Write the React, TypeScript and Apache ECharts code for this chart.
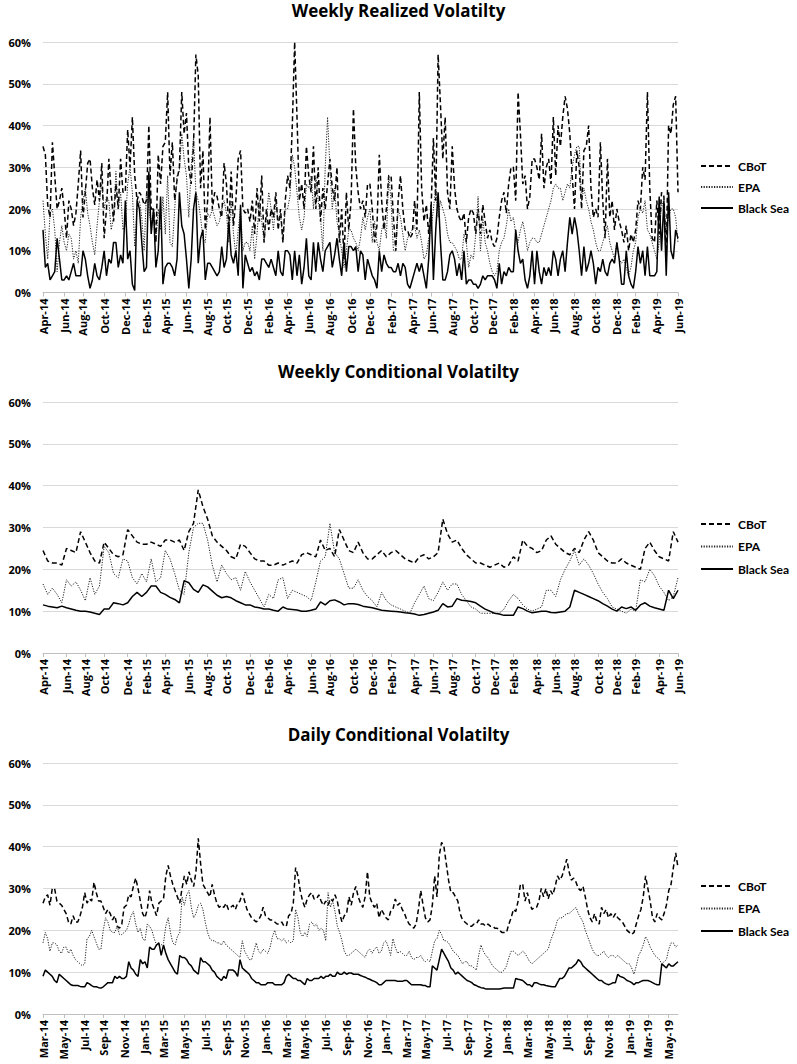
import { useEffect, useRef } from "react";
import * as echarts from "echarts";

const MONTHS = ["Jan", "Feb", "Mar", "Apr", "May", "Jun", "Jul", "Aug", "Sep", "Oct", "Nov", "Dec"];
const SERIES_NAMES = ["CBoT", "EPA", "Black Sea"];
const TITLES = ["Weekly Realized Volatilty", "Weekly Conditional Volatilty", "Daily Conditional Volatilty"];

// ---- Weekly realized volatility (%), weekly from 2014-04-04 ----
const realizedCBoT = [
  35, 33, 21, 18, 36, 28, 20, 22, 25,
  20, 13, 22, 20, 16, 19, 26, 34,
  18, 24, 31, 32, 25, 21, 27, 22, 31,
  13, 20, 32, 24, 17, 26, 20, 32, 24,
  24, 39, 30, 42, 28, 22, 24, 23, 21,
  22, 40, 20, 20, 12, 33, 26, 35,
  36, 48, 28, 36, 22, 27, 30, 48, 38,
  43, 30, 26, 35, 57, 52, 25, 34, 15,
  22, 42, 20, 24, 23, 20, 18, 31,
  26, 15, 29, 16, 22, 32, 34, 20, 19,
  20, 17, 22, 14, 25, 17, 28, 12, 20,
  15, 20, 18, 24, 15, 20, 12, 22,
  28, 25, 40, 60, 42, 22, 26, 20, 35,
  28, 24, 35, 20, 30, 17, 25, 20, 26,
  32, 25, 22, 30, 12, 20, 8, 24, 15,
  22, 44, 30, 24, 20, 22, 18, 26,
  26, 20, 12, 16, 33, 22, 15, 20, 28,
  28, 18, 10, 22, 28, 20, 15, 15, 13,
  14, 22, 15, 48, 25, 17, 21, 14,
  20, 37, 22, 57, 45, 32, 42, 24, 20,
  35, 25, 20, 18, 17, 19, 12, 18, 20,
  19, 14, 20, 14, 21, 17, 13, 15,
  12, 11, 13, 18, 22, 24, 19, 26, 30,
  30, 22, 48, 38, 26, 28, 20, 23, 32,
  32, 30, 27, 38, 25, 30, 32, 26,
  42, 28, 40, 35, 42, 47, 44, 38, 28,
  20, 34, 30, 20, 34, 35, 40, 25, 18,
  20, 18, 36, 22, 13, 32, 18, 22, 15,
  20, 17, 15, 12, 16, 10, 14, 12,
  15, 22, 20, 30, 27, 48, 25, 13, 12,
  22, 14, 24, 23, 8, 40, 38, 45, 47,
  24,
];
const realizedEPA = [
  22, 14, 8, 19, 20, 15, 5, 12, 16,
  12, 10, 14, 13, 8, 10, 7, 18,
  22, 25, 19, 16, 12, 9, 16, 22, 26,
  20, 23, 22, 15, 18, 29, 20, 24, 15,
  16, 26, 30, 24, 11, 20, 22, 18, 10,
  24, 20, 16, 20, 12, 20, 15, 23,
  14, 28, 12, 11, 20, 28, 29, 38, 32,
  28, 18, 30, 37, 24, 22, 18, 13, 12,
  19, 18, 20, 18, 16, 17, 20, 22,
  19, 12, 22, 14, 9, 15, 20, 10, 12,
  12, 10, 16, 8, 14, 22, 17, 12, 18,
  24, 20, 15, 22, 17, 19, 12, 20,
  20, 23, 33, 30, 24, 18, 15, 18, 26,
  25, 28, 20, 28, 22, 18, 10, 30, 42,
  30, 20, 25, 17, 14, 10, 6, 10, 15,
  15, 13, 12, 10, 13, 18, 15, 18,
  20, 12, 17, 12, 10, 15, 17, 13, 28,
  22, 10, 10, 20, 18, 14, 10, 13, 14,
  15, 16, 13, 15, 12, 8, 9, 13,
  15, 20, 25, 18, 22, 20, 18, 14, 12,
  12, 11, 10, 8, 8, 14, 12, 6, 9,
  8, 14, 23, 10, 18, 12, 10, 7,
  5, 4, 5, 10, 12, 13, 16, 20, 17,
  18, 14, 12, 15, 17, 14, 10, 12, 13,
  13, 12, 12, 14, 16, 18, 20, 22,
  25, 26, 25, 25, 22, 24, 26, 25, 30,
  33, 35, 35, 22, 25, 22, 20, 17, 15,
  12, 10, 10, 12, 14, 16, 12, 10, 8,
  12, 8, 7, 8, 6, 4, 6, 10,
  12, 18, 20, 19, 22, 15, 14, 12, 10,
  8, 12, 22, 20, 15, 18, 20, 20, 18,
  12,
];
const realizedBlackSea = [
  15, 6, 7, 3, 4, 5, 13, 8, 3,
  3, 4, 3, 5, 7, 4, 4, 4,
  10, 8, 4, 1, 3, 7, 4, 3, 6,
  10, 4, 8, 7, 12, 12, 6, 9, 7,
  22, 8, 10, 2, 0.5, 22, 20, 12, 5,
  6, 29, 14, 20, 6, 10, 23, 2,
  6, 7, 7, 6, 4, 8, 24, 16, 14,
  8, 1, 8, 20, 24, 7, 13, 15, 3,
  7, 7, 6, 5, 4, 5, 11, 6,
  8, 17, 9, 7, 10, 4, 21, 1, 9,
  7, 5, 6, 4, 5, 3, 8, 8, 7,
  6, 8, 6, 4, 10, 5, 4, 10,
  10, 9, 3, 10, 4, 9, 2, 6, 13,
  4, 3, 12, 5, 12, 8, 5, 10, 11,
  12, 6, 9, 13, 8, 4, 12, 5, 11,
  11, 10, 11, 5, 10, 9, 3, 8,
  6, 4, 3, 1, 10, 5, 9, 7, 6,
  6, 5, 5, 7, 4, 7, 6, 2, 1,
  3, 5, 7, 5, 7, 4, 1, 8,
  21, 3, 15, 24, 12, 3, 3, 5, 9,
  10, 8, 4, 7, 3, 10, 2, 3, 3,
  2, 2, 1, 2, 4, 3, 4, 4,
  4, 3, 1, 7, 2, 5, 4, 6, 5,
  5, 15, 10, 7, 8, 3, 1, 4, 10,
  2, 10, 5, 2, 6, 4, 6, 4,
  10, 8, 4, 8, 10, 5, 12, 18, 14,
  18, 15, 10, 4, 11, 5, 7, 10, 7,
  2, 6, 5, 8, 5, 4, 7, 8, 7,
  12, 8, 2, 2, 10, 4, 2, 1,
  5, 11, 7, 10, 4, 11, 4, 4, 4,
  5, 23, 10, 22, 4, 24, 10, 8, 15,
  13,
];

// ---- Weekly conditional volatility (%), sampled every 2 weeks from 2014-04-04 ----
const weeklyCondCBoT = [
  24.5, 22, 21.5, 21.5, 21,
  25, 24.5, 24, 29,
  26.5, 24, 22, 21.5,
  26.5, 25, 23.5, 23, 23.5,
  29.5, 28, 26.5, 26,
  26, 26.5, 26, 25.5,
  27, 27, 26.5, 27, 24.5,
  29, 31, 39, 35,
  32, 28, 26.5, 25.5,
  24.5, 23, 22.5, 26, 25.5,
  24, 22.5, 22, 22,
  21, 21, 21.5, 21,
  21.5, 22, 21.5, 23.5, 24,
  23.5, 23, 27, 24.5,
  25, 23, 29.5, 27, 24.5,
  24, 26.5, 24, 22.5,
  22.5, 23.5, 24.5, 23,
  24, 24.5, 23.5, 22.5, 22,
  21.5, 23, 23.5, 22.5,
  23, 24, 32, 28.5,
  26.5, 27, 25, 23.5, 22.5,
  21.5, 21.5, 21, 20.5,
  21, 21.5, 20.5, 21,
  23, 22, 27, 25.5, 25,
  24, 24.5, 27, 28,
  26, 25, 24, 23.5,
  25, 24, 27, 29, 27,
  24, 23, 22, 21.5,
  21.5, 22.5, 21.5, 21,
  20.5, 20, 25, 26.5, 24.5,
  23, 22.5, 22, 29,
  26.5,
];
const weeklyCondEPA = [
  16.5, 14, 15.5, 14, 12,
  17.5, 16, 17, 15,
  12.5, 18, 14, 16,
  25.5, 24, 19, 18, 22.5,
  22, 18, 16.5, 19,
  17, 22.5, 17, 18,
  24.5, 22.5, 19, 15, 14,
  24, 30, 31, 31,
  27, 21, 17, 21,
  19, 17.5, 18, 15, 19.5,
  17, 15, 13, 11,
  14, 13, 17.5, 18,
  13, 15, 14.5, 14, 13.5,
  12.5, 17, 22, 23,
  31, 24, 22.5, 19, 15.5,
  15.5, 17.5, 15, 13.5,
  12.5, 11, 14.5, 12.5,
  11.5, 11, 10.5, 10, 9.5,
  12, 14, 16, 13,
  12.5, 14.5, 17, 15,
  16.5, 16.5, 14, 12.5, 11,
  10.5, 9.5, 9.5, 9.5,
  9.5, 9.5, 10.5, 12.5,
  14, 13, 11.5, 10.5, 10,
  10.5, 11, 15, 15,
  13.5, 17.5, 20, 22,
  24.5, 21, 22.5, 21, 19,
  16.5, 14.5, 13, 11,
  10.5, 10, 9.5, 10.5,
  10, 17.5, 17, 20, 18.5,
  16, 14.5, 12.5, 13.5,
  18,
];
const weeklyCondBlackSea = [
  11.5, 11.2, 11, 10.8, 11.2,
  10.8, 10.5, 10.2, 10,
  10, 9.8, 9.5, 9.2,
  10.5, 10.5, 12, 11.8, 11.5,
  12, 13.5, 14.5, 13.5,
  14.5, 16, 16, 14.5,
  14, 13.3, 12.8, 12, 17.3,
  16.8, 15.2, 14.5, 16.3,
  15.8, 14.8, 13.8, 13.2,
  13.5, 13.2, 12.5, 12, 11.5,
  11.5, 11, 10.8, 10.5,
  10.5, 10.2, 10, 11,
  10.5, 10.4, 10.3, 10, 10,
  10.2, 10.5, 12.2, 11.5,
  12.5, 12.7, 12.2, 11.5, 11.8,
  11.8, 11.6, 11.2, 11,
  10.8, 10.5, 10.2, 10.1,
  10, 9.9, 9.8, 9.6, 9.5,
  9.3, 9, 9.2, 9.5,
  9.8, 10.2, 11.8, 11,
  11.2, 13, 12.6, 12.5, 12.3,
  12, 11.2, 10.5, 10,
  9.5, 9.3, 9, 9,
  9, 11, 10.6, 10, 9.6,
  9.8, 10, 10, 9.7,
  9.6, 9.8, 10, 11,
  15, 14.5, 14, 13.5, 13,
  12.5, 11.8, 11.2, 10.5,
  10, 11, 10.6, 11,
  10.2, 11.5, 12, 11.2, 10.8,
  10.5, 10.2, 15, 13,
  15,
];

// ---- Daily conditional volatility (%), sampled weekly from 2014-03-03 ----
const dailyCondCBoT = [
  26.5, 28, 28.5, 26, 30, 30, 27, 26.5, 26,
  25, 24, 22, 21.5, 23.5, 22, 22, 23.5, 25.5,
  29, 26.5, 27.5, 27, 31.5, 29, 27, 27,
  25.5, 24, 25, 24, 22.5, 23.5, 21, 20.5, 21.5,
  25.5, 26, 28.5, 28, 30.5, 32.5, 30, 27, 24,
  23, 25, 29.5, 26.5, 25, 23.5, 26.5, 27,
  27.5, 33, 35.5, 33, 31, 29.5, 28, 26.5, 30,
  33, 31, 34, 32, 30.5, 34, 42, 36, 31,
  30, 29, 28, 31, 28.5, 26.5, 25.5, 26, 25.5,
  26.5, 25, 25.5, 26, 25, 26.5, 27, 29,
  27, 25, 24, 23, 22.5, 22, 22.5, 23.5, 25.5,
  23.5, 23, 22.5, 22.5, 22, 21.5, 21.5, 22, 21,
  21, 23.5, 24, 26.5, 35, 33, 29.5, 27,
  25.5, 27.5, 28.5, 29, 27.5, 27.5, 28.5, 27, 26,
  27, 26, 27.5, 27, 28.5, 27, 24, 22, 23.5,
  24, 28, 26, 29, 30.5, 28, 26.5, 25.5, 28,
  34, 28, 26.5, 25.5, 26.5, 23, 25, 24,
  23, 22.5, 24.5, 25, 27.5, 26, 26.5, 25, 24,
  22.5, 21.5, 21, 20.5, 21.5, 25, 29.5, 26,
  23, 22, 22.5, 26, 33, 28, 38, 41, 40,
  36, 32, 29, 29, 28, 27, 24, 22.5, 22,
  21.5, 21, 21, 21.5, 21.5, 22.5, 21.5, 21.5, 21,
  21.5, 21, 21, 20.5, 20.5, 20, 19.5, 19.5,
  19.5, 21.5, 23, 25, 24.5, 27, 31, 31, 27,
  29, 26.5, 25, 25.5, 25.5, 27, 30, 28, 30,
  27.5, 29.5, 28.5, 30.5, 33, 32, 33, 35,
  37, 34, 32, 32.5, 31.5, 30, 29.5, 30.5, 28,
  25, 23, 22, 24, 22, 21.5, 25.5, 24, 25,
  23, 24, 23, 24, 23, 22.5, 22, 21, 20,
  19.5, 19, 19.5, 21.5, 23.5, 25, 28, 33,
  30, 27, 23, 22, 24, 23, 22.5, 24, 26,
  29.5, 31, 35, 38.5, 35,
];
const dailyCondEPA = [
  17, 19.5, 18, 15, 17, 17, 16.5, 15, 14.5,
  16, 16, 14.5, 15.5, 14, 13, 12.5, 12, 11.5,
  12, 18, 18.5, 20, 18.5, 17, 15.5, 15.5,
  20, 23, 22, 20, 19.5, 19.5, 21, 19, 19,
  19.5, 20, 21.5, 23.5, 24.5, 21.5, 19.5, 20.5, 18,
  17.5, 21.5, 21, 20, 18, 16.5, 16.5, 16.5,
  17, 21, 23, 19.5, 17, 16.5, 18.5, 19.5, 28,
  26, 28.5, 29.5, 25.5, 23, 24, 26, 26.5, 25,
  22, 19.5, 18, 17.5, 17.5, 17, 17, 16.5, 17.5,
  16.5, 16, 15.5, 15, 14.5, 14, 13.5, 17.5,
  15, 14, 13, 13, 15, 17, 15, 14.5, 15.5,
  15, 14.5, 16, 18.5, 20, 18, 18, 17.5, 18,
  17, 17.5, 17, 17.5, 25, 23, 19.5, 18.5,
  19.5, 18.5, 21.5, 22, 21, 21.5, 20, 20.5, 20,
  17.5, 29, 25.5, 27, 24.5, 21, 19.5, 17.5, 15,
  14, 14, 14.5, 15, 15.5, 15, 14.5, 14, 13.5,
  15, 15.5, 14.5, 15.5, 16, 14.5, 15, 17,
  17.5, 16, 14, 18, 16, 14.5, 15, 14.5, 14,
  14, 15, 13.5, 13, 13.5, 13.5, 14, 13,
  12.5, 13, 12.5, 15, 17.5, 18, 20, 19, 17.5,
  17.5, 17, 16, 15, 14.5, 14, 13, 12, 12.5,
  12.5, 11.5, 11.5, 11, 10.5, 14, 16.5, 15, 14,
  13.5, 12.5, 11.5, 11, 10.5, 10, 10, 10.5,
  11.5, 13.5, 15, 15, 14.5, 14, 14.5, 15, 14.5,
  13.5, 12.5, 12, 12.5, 13, 13.5, 14, 14.5, 15,
  15.5, 17.5, 19, 20.5, 22.5, 23, 23, 23.5,
  24, 24, 24.5, 25, 25.5, 24, 23, 22, 20,
  18.5, 17, 15.5, 14.5, 14, 14, 14.5, 15, 14,
  13.5, 14, 14, 13.5, 14, 13.5, 13, 12.5, 12,
  12, 11, 9.5, 11.5, 14, 15, 16.5, 18.5,
  17.5, 16, 15, 14, 13.5, 13, 12, 12.5, 13,
  15.5, 17, 17, 16, 16.5,
];
const dailyCondBlackSea = [
  9, 10.5, 10, 9.5, 9, 8, 7.5, 9.5, 9,
  8.5, 8, 7.5, 7, 6.8, 6.8, 6.8, 6.6, 6.5,
  6.5, 7.5, 7.2, 6.8, 6.5, 6.5, 6.3, 6.2,
  6.5, 7, 7.5, 7.5, 7.5, 9, 8.5, 9, 8.5,
  8.5, 9, 12.5, 11, 10.5, 9.5, 9, 13, 12,
  12.5, 11, 16, 15.5, 15.5, 16.5, 17, 14,
  16.5, 14.5, 13, 12, 11, 10, 9.5, 14, 13.5,
  13.5, 13, 12, 11.5, 10.5, 10, 9.5, 13.5, 12.5,
  12.5, 12, 11.5, 10.5, 10, 9, 8.5, 8, 9,
  8.5, 10.5, 10.5, 10.5, 10, 9, 13, 11,
  10.5, 10, 9.5, 8.5, 8, 7.5, 7.5, 7, 7,
  7, 7.5, 7.5, 7.5, 7, 7, 7, 7, 7.5,
  9, 9.5, 9, 8.5, 8.5, 8, 8, 7.5,
  7, 8.5, 8, 8, 8.5, 8.5, 8.5, 9, 8.5,
  9, 9, 9.5, 9, 9, 10, 9.5, 9.5, 10,
  9.5, 9.8, 9.8, 9.5, 9.5, 9.5, 9.2, 9, 8.8,
  8.5, 8.3, 8, 7.8, 7.5, 7, 7, 7.5,
  8, 8, 8, 8, 8, 7.8, 7.8, 7.8, 8,
  8, 7.5, 7, 7, 7, 7, 7, 6.8,
  6.8, 6.5, 6.5, 11.5, 11, 10.5, 13, 15.5, 14.5,
  13.5, 12.5, 11, 10.5, 9.5, 10, 9.5, 9, 8.5,
  8, 7.8, 7.5, 7, 6.8, 6.5, 6.3, 6.2, 6,
  6, 6, 6, 6, 6, 6, 6.1, 6.2,
  6.2, 6.2, 6.2, 6.2, 8.5, 8.3, 8.2, 8, 7.5,
  7, 7, 6.5, 7.5, 7.5, 7.2, 7, 7, 6.8,
  6.7, 6.6, 6.5, 6.5, 7.5, 8.5, 8.5, 9,
  10, 11, 11, 11.5, 12, 13, 12.5, 11.5, 11,
  10.5, 10, 9.5, 9, 8.5, 8, 8, 7.5, 7.2,
  7, 7.2, 7.5, 7.5, 9.5, 9, 8.8, 8.5, 8,
  7.8, 7.5, 7, 7.5, 7.5, 7.8, 8, 8,
  8, 7.8, 7.5, 7.2, 7, 7, 12, 11.5, 11,
  12, 11.5, 11.5, 12, 12.5,
];

function makeDates(y: number, m: number, d: number, stepDays: number, n: number): string[] {
  const out: string[] = [];
  const t0 = Date.UTC(y, m, d);
  for (let i = 0; i < n; i++) {
    const dt = new Date(t0 + i * stepDays * 86400000);
    out.push(
      `${dt.getUTCFullYear()}-${String(dt.getUTCMonth() + 1).padStart(2, "0")}-${String(dt.getUTCDate()).padStart(2, "0")}`
    );
  }
  return out;
}
const monthOf = (s: string) => parseInt(s.slice(5, 7), 10) - 1;
const fmtLabel = (s: string) => `${MONTHS[monthOf(s)]}-${s.slice(2, 4)}`;

export default function App() {
  const ref = useRef<HTMLDivElement>(null);
  useEffect(() => {
    if (!ref.current) return;
    const chart = echarts.init(ref.current, undefined, { renderer: "svg" });

    const dates1 = makeDates(2014, 3, 4, 7, realizedCBoT.length);
    const dates2 = makeDates(2014, 3, 4, 14, weeklyCondCBoT.length);
    const dates3 = makeDates(2014, 2, 3, 7, dailyCondCBoT.length);
    const allDates = [dates1, dates2, dates3];
    const parity = [1, 1, 0];
    const seriesData = [
      [realizedCBoT, realizedEPA, realizedBlackSea],
      [weeklyCondCBoT, weeklyCondEPA, weeklyCondBlackSea],
      [dailyCondCBoT, dailyCondEPA, dailyCondBlackSea],
    ];
    const gridTops = [42, 402, 763];
    const gridHeights = [250.5, 251, 251];
    const titleTops = [2, 363, 726];
    const legendTops = [160, 518, 880];
    const legendGaps = [9, 10.5, 10.5];
    const axisFont = "Open Sans";
    const legendFont = "Lato";

    const showFn = (k: number) => (i: number) => {
      const ds = allDates[k];
      const m = monthOf(ds[i]);
      if (i > 0 && monthOf(ds[i - 1]) === m) return false;
      return m % 2 === parity[k];
    };

    const lineStyles = [
      { color: "#000", width: 1.5, type: [5, 3] },
      { color: "#222", width: 1, type: [1.2, 1.4] },
      { color: "#000", width: 1.5, type: "solid" },
    ];

    const series: any[] = [];
    seriesData.forEach((group, k) => {
      group.forEach((vals, j) => {
        series.push({
          type: "line",
          name: SERIES_NAMES[j],
          xAxisIndex: k,
          yAxisIndex: k,
          data: vals,
          symbol: "none",
          showSymbol: false,
          itemStyle: { color: "#000" },
          lineStyle: lineStyles[j],
          z: 2 + j,
        });
      });
    });

    chart.setOption({
      animation: false,
      backgroundColor: "#fff",
      title: TITLES.map((t, k) => ({
        text: t,
        left: "center",
        top: titleTops[k],
        padding: 0,
        textStyle: { fontFamily: axisFont, fontWeight: "bold", fontSize: 17, color: "#000" },
      })),
      legend: [0, 1, 2].map((k) => ({
        orient: "vertical",
        left: 700,
        top: legendTops[k],
        padding: 0,
        itemWidth: 32,
        itemHeight: 14,
        itemGap: legendGaps[k],
        selectedMode: false,
        itemStyle: { opacity: 0 },
        data: SERIES_NAMES,
        textStyle: { fontFamily: legendFont, fontWeight: "bold", fontSize: 12, color: "#000" },
      })),
      grid: [0, 1, 2].map((k) => ({
        left: 43,
        top: gridTops[k],
        width: 635,
        height: gridHeights[k],
      })),
      xAxis: [0, 1, 2].map((k) => ({
        type: "category",
        gridIndex: k,
        boundaryGap: false,
        data: allDates[k],
        axisLine: { lineStyle: { color: "#bfbfbf", width: 1 } },
        axisTick: { show: true, interval: showFn(k), length: 4, lineStyle: { color: "#bfbfbf" } },
        axisLabel: {
          interval: showFn(k),
          rotate: 90,
          margin: 6,
          formatter: (v: string) => fmtLabel(v),
          fontFamily: axisFont,
          fontWeight: "bold",
          fontSize: 11,
          color: "#000",
        },
        splitLine: { show: false },
      })),
      yAxis: [0, 1, 2].map((k) => ({
        type: "value",
        gridIndex: k,
        min: 0,
        max: 60,
        interval: 10,
        axisLine: { show: false },
        axisTick: { show: false },
        axisLabel: {
          formatter: (v: number) => `${v}%`,
          margin: 12,
          fontFamily: axisFont,
          fontWeight: "bold",
          fontSize: 11,
          color: "#000",
        },
        splitLine: { lineStyle: { color: "#d9d9d9", width: 1 } },
      })),
      series,
    });

    return () => chart.dispose();
  }, []);

  return (
    <div
      ref={ref}
      style={{ position: "fixed", left: 0, top: 0, width: 797, height: 1064, background: "#fff" }}
    />
  );
}
